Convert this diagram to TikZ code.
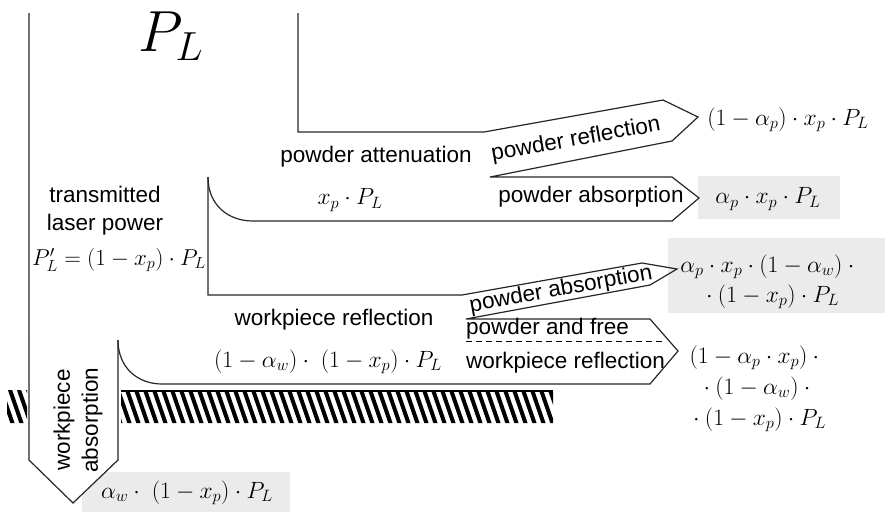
\RequirePackage{fix-cm}
\documentclass[tikz,border=0pt]{standalone}
\usepackage{fontspec}
\setmainfont{Liberation Sans}
\begin{document}
\begin{tikzpicture}[x=1pt,y=-1pt,
  lbl/.style={font=\fontsize{22.5}{28}\selectfont, inner sep=0pt, align=center},
  eq/.style={font=\fontsize{23.5}{31}\selectfont, inner sep=0pt, align=center},
  band/.style={draw=black!85, line width=1.2pt, line join=miter},
  shade/.style={fill=black!8, draw=none}]
\useasboundingbox (0,0) rectangle (885,512);

% grey result boxes
\fill[shade] (698,176) rectangle (840,219);
\fill[shade] (668,238) rectangle (885,313);
\fill[shade] (82,472) rectangle (290,512);

% workpiece (hatched)
\begin{scope}
  \clip (7,390) rectangle (27,423) (121,390) rectangle (553,423);
  \foreach \i in {-10,...,70} \draw[line width=4pt] (\i*9,387) -- ++(13.5,39);
\end{scope}
\draw[line width=2.5pt] (121,391) -- (553,391);

% incoming beam and workpiece absorption arrow
\fill[white] (29,340) -- (29,460) -- (73,503) -- (118,460) -- (118,340) -- cycle;
\draw[band] (29,13) -- (29,460) -- (73,503) -- (118,460) -- (118,340);

% workpiece reflection band with its two outgoing arrows
\draw[band] (118,340) .. controls (118,368) and (138,384) .. (162,384)
  -- (650,384) -- (678,351) -- (650,319) -- (466,319)
  -- (650,285) -- (677,269) -- (642,263) -- (462,295)
  -- (208,295) -- (208,177);
\draw[dash pattern=on 6pt off 4pt, line width=1pt] (466,341) -- (666,341);

% powder attenuation band with its two outgoing arrows
\draw[band] (208,177) .. controls (208,205) and (228,221) .. (253,221)
  -- (672,221) -- (699,198) -- (672,177) -- (490,177)
  -- (672,141) -- (698,117) -- (663,100) -- (484,132)
  -- (298,132) -- (298,13);

% labels
\node (pl) at (171,36) {\fontsize{58}{60}\selectfont $P_L$};

\node[lbl] (att) at (376,157) {powder attenuation};
\node[eq] (attv) at (350,200) {$x_p\cdot P_L$};

\node[lbl] (trans) at (105,211) {transmitted\\laser power};
\node[eq, font=\fontsize{23}{31}\selectfont] (transv) at (119,260) {$P_L'=(1-x_p)\cdot P_L$};

\node[lbl, rotate=10.2] (prefl) at (576,140) {powder reflection};
\node[lbl] (pabs) at (591,197) {powder absorption};
\node[eq] (preflv) at (788,120) {$(1-\alpha_p)\cdot x_p\cdot P_L$};
\node[eq] (pabsv) at (768,199) {$\alpha_p\cdot x_p\cdot P_L$};

\node[lbl] (wrefl) at (334,320) {workpiece reflection};
\node[eq] (wreflv) at (328,362) {$(1-\alpha_w)\cdot\ (1-x_p)\cdot P_L$};

\node[lbl, rotate=10.2] (pabs2) at (561,290) {powder absorption};
\node[eq, font=\fontsize{23.5}{30}\selectfont] (pabs2v) at (770,282)
  {$\alpha_p\cdot x_p\cdot(1-\alpha_w)\cdot{}$\\${}\cdot\Bigl(1-x_p\Bigr)\cdot P_L$};

\node[lbl, anchor=west] (free1) at (466,329) {powder and free};
\node[lbl, anchor=west] (free2) at (466,363) {workpiece reflection};
\node[eq] (freev) at (757,389)
  {$(1-\alpha_p\cdot x_p)\cdot{}$\\${}\cdot(1-\alpha_w)\cdot{}$\\${}\cdot\Bigl(1-x_p\Bigr)\cdot P_L$};

\node[lbl, rotate=90] (wabs) at (78,420) {workpiece\\absorption};
\node[eq] (wabsv) at (187,493) {$\alpha_w\cdot\ (1-x_p)\cdot P_L$};
\end{tikzpicture}
\end{document}
